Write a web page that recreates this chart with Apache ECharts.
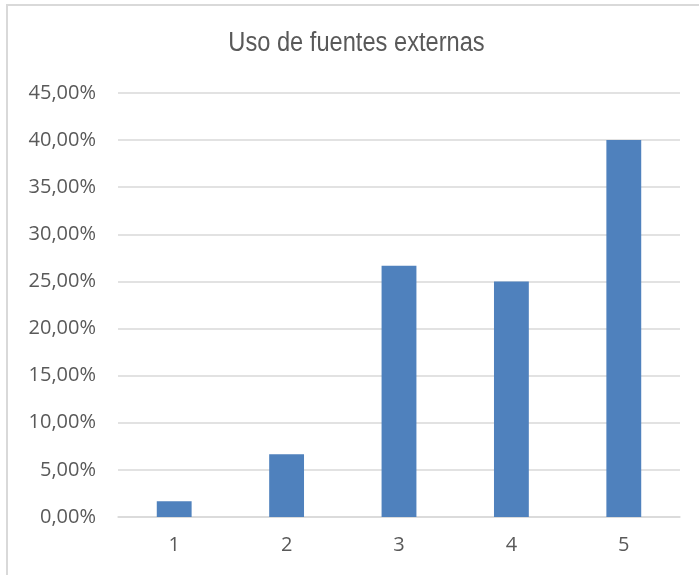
<!DOCTYPE html>
<html>
<head>
<meta charset="utf-8">
<script src="https://cdn.jsdelivr.net/npm/echarts@6/dist/echarts.min.js"></script>
<style>
  html, body { margin: 0; padding: 0; background: #fff; }
  #wrap { width: 699px; height: 575px; }
</style>
</head>
<body>
<div id="wrap"></div>
<script>
var chartTitle = 'Uso de fuentes externas';
var categories = ['1', '2', '3', '4', '5'];
var values = [1.67, 6.67, 26.67, 25.0, 40.0];

var myChart = echarts.init(document.getElementById('wrap'));
var option = {
    animation: false,
    backgroundColor: '#fff',
    graphic: [{
        type: 'rect',
        shape: { x: 7, y: 5, width: 720, height: 600 },
        style: { fill: 'none', stroke: '#d9d9d9', lineWidth: 2 },
        silent: true
    }, {
        // narrow-looking title: regular sans squeezed horizontally
        type: 'text',
        x: 356.5,
        y: 44,
        scaleX: 0.876,
        silent: true,
        style: {
            text: chartTitle,
            x: 0,
            y: 0,
            align: 'center',
            verticalAlign: 'middle',
            font: '27px "Liberation Sans", Arial, sans-serif',
            fill: '#595959'
        }
    }],
    grid: { left: 118, right: 19, top: 93, bottom: 58 },
    xAxis: {
        type: 'category',
        data: categories,
        axisLine: { lineStyle: { color: '#d9d9d9', width: 1.5 } },
        axisTick: { show: false },
        axisLabel: { color: '#595959', fontSize: 20, fontFamily: 'Open Sans', margin: 18 }
    },
    yAxis: {
        type: 'value',
        min: 0,
        max: 45,
        interval: 5,
        axisLine: { show: false },
        axisTick: { show: false },
        splitLine: { lineStyle: { color: '#d9d9d9', width: 1.5 } },
        axisLabel: {
            color: '#595959',
            fontSize: 20,
            fontFamily: 'Open Sans',
            margin: 22,
            formatter: function(v) { return v.toFixed(2).replace('.', ',') + '%'; }
        }
    },
    series: [{
        type: 'bar',
        data: values,
        barWidth: '31%',
        itemStyle: { color: '#4f81bd' }
    }]
};
myChart.setOption(option);
</script>
</body>
</html>
